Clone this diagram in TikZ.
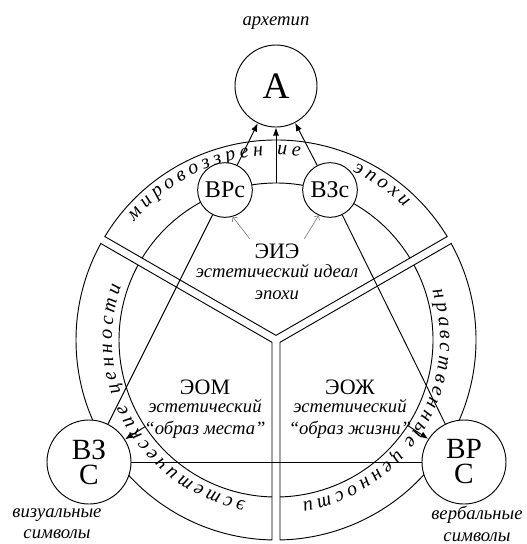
\documentclass[tikz,border=0pt]{standalone}
\usepackage{fontspec}
\setmainfont{Liberation Serif}
\usetikzlibrary{arrows.meta, calc, decorations.text}

\begin{document}
\begin{tikzpicture}[
    x=0.75pt, y=0.75pt,
    line width=0.7pt,
    bigcirc/.style={draw, circle, fill=white, inner sep=0pt, minimum size=61.5pt, font=\fontsize{28}{30}\selectfont},
    smallcirc/.style={draw, circle, fill=white, inner sep=0pt, minimum size=41pt, font=\fontsize{18}{20}\selectfont},
    cornercirc/.style={draw, circle, fill=white, inner sep=0pt, minimum size=63pt, align=center, font=\fontsize{22}{18.75}\selectfont},
    caption/.style={font=\itshape\fontsize{14}{16}\selectfont, align=center},
    head/.style={font=\fontsize{16.5}{18}\selectfont},
    ringtext/.style={decorate, decoration={text along path, text align={fit to path}, text={|\itshape\fontsize{15}{17}\selectfont|#1}}}
]
\useasboundingbox (0,0) rectangle (527,-544);

% CENTRE OF THE WHEEL
\coordinate (C) at (276,-340);

% THREE SECTORS (outer ring r=200)
\draw ($(C)+(90:4.62)$) -- ($(C)+(148.85:200)$) arc[start angle=148.85, end angle=31.15, radius=200] -- cycle;
\draw ($(C)+(210:4.62)$) -- ($(C)+(268.85:200)$) arc[start angle=268.85, end angle=151.15, radius=200] -- cycle;
\draw ($(C)+(330:4.62)$) -- ($(C)+(28.85:200)$) arc[start angle=28.85, end angle=-88.85, radius=200] -- cycle;

% INNER ARCS (r=157)
\draw ($(C)+(148.54:157)$) arc[start angle=148.54, end angle=31.46, radius=157];
\draw ($(C)+(268.54:157)$) arc[start angle=268.54, end angle=151.46, radius=157];
\draw ($(C)+(28.54:157)$) arc[start angle=28.54, end angle=-88.54, radius=157];

% RING TEXTS
\path[ringtext=мировоззрен ие] ($(C)+(140:185)$) arc[start angle=140, end angle=82.5, radius=185];
\path[ringtext=эпохи] ($(C)+(65.5:185)$) arc[start angle=65.5, end angle=46, radius=185];
\path[ringtext=нравственные] ($(C)+(17.5:164)$) arc[start angle=17.5, end angle=-38.8, radius=164];
\path[ringtext=ценности] ($(C)+(-42.2:164)$) arc[start angle=-42.2, end angle=-80.8, radius=164];
\path[ringtext=эстетические] ($(C)+(259.4:164)$) arc[start angle=259.4, end angle=203, radius=164];
\path[ringtext=ценности] ($(C)+(198.7:164)$) arc[start angle=198.7, end angle=160.7, radius=164];

% CIRCLES
\node[bigcirc] (A) at (276,-86) {А};
\node[caption] (arch) at (276,-23) {архетип};
\node[smallcirc] (vrs) at (225,-190) {ВРс};
\node[smallcirc] (vzs) at (330,-190) {ВЗс};
\node[cornercirc] (vzsym) at (89,-462) {ВЗ\\С};
\node[cornercirc] (vrsym) at (464,-462) {ВР\\С};

% TEXTS
\node[head] (eie) at (277,-251) {ЭИЭ};
\node[caption] (eietxt) at (277,-282) {эстетический идеал\\эпохи};
\node[head] (eom) at (205,-387) {ЭОМ};
\node[caption] (eomtxt) at (205,-419) {эстетический\\“образ места”};
\node[head] (eoj) at (350,-387) {ЭОЖ};
\node[caption] (eojtxt) at (350,-419) {эстетический\\“образ жизни”};
\node[caption] (vislbl) at (57,-524) {визуальные\\символы};
\node[caption] (verblbl) at (477,-524) {вербальные\\символы};

% CONNECTORS
\coordinate (top) at ($(C)+(90:157)$);
\coordinate (ml) at ($(C)+(213.5:157)$);
\coordinate (mr) at ($(C)+(-33:157)$);
\draw[-{Latex}] (vrs) -- (A);
\draw[-{Latex}] (vzs) -- (A);
\draw[-{Latex}] (top) -- (A);
\draw (vrs) -- (vzsym);
\draw (vzs) -- (vrsym);
\draw (vzsym) -- (vrsym);
\draw[-{Latex}] (ml) -- (vzsym);
\draw[-{Latex}] (mr) -- (vrsym);
\draw[gray, line width=0.5pt, -{Straight Barb}] (eie.north west) -- (vrs.-74);
\draw[gray, line width=0.5pt, -{Straight Barb}] (eie.north east) -- (vzs.-114);

\end{tikzpicture}
\end{document}
